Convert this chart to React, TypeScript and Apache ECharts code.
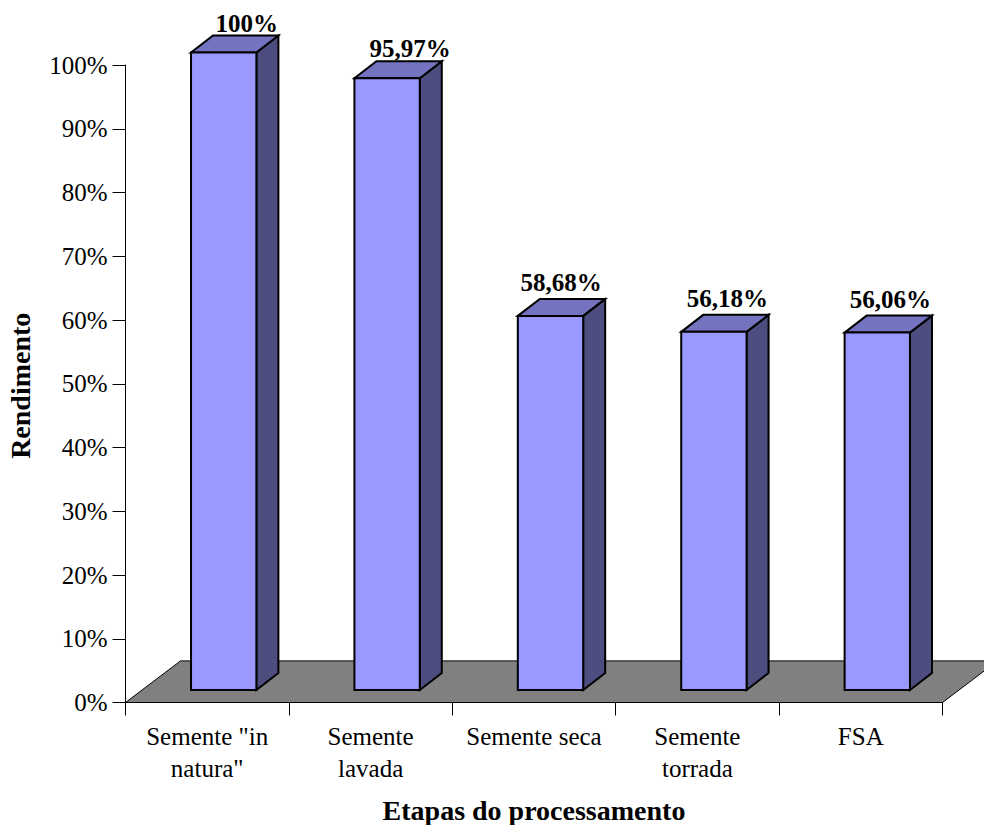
import React, { useEffect, useRef } from "react";
import * as echarts from "echarts";

const categories = ['Semente "in\nnatura"', "Semente\nlavada", "Semente seca", "Semente\ntorrada", "FSA"];
const yields = [100, 95.97, 58.68, 56.18, 56.06];
const yTicks = [0, 10, 20, 30, 40, 50, 60, 70, 80, 90, 100];
const yAxisTitle = "Rendimento";
const xAxisTitle = "Etapas do processamento";

// Hand placement of the value labels relative to each bar's front face / back edge.
const labelShiftX = [23, 23, 10.5, 13.5, 13];
const labelShiftY = [0, 0, -4, -4, -4];

const FONT = '"Liberation Serif", "Times New Roman", serif';
const FLOOR_DX = 55;
const FLOOR_DY = 41.6;
const BAR_DX = 22;
const BAR_DY = 17;

const fmt = (v: number) => String(v).replace(".", ",") + "%";

export default function App() {
  const ref = useRef<HTMLDivElement>(null);
  useEffect(() => {
    document.body.style.margin = "0";
    const chart = echarts.init(ref.current!, undefined, { renderer: "svg" });
    chart.setOption({
      animation: false,
      backgroundColor: "#ffffff",
      grid: { left: 125.5, right: 41.5, top: 65, bottom: 122.5, outerBoundsMode: "none", containLabel: false },
      xAxis: {
        type: "category",
        data: categories,
        name: xAxisTitle,
        nameLocation: "middle",
        nameGap: 97,
        nameTextStyle: { fontFamily: FONT, fontSize: 28, lineHeight: 22, fontWeight: "bold", color: "#000" },
        axisLine: { show: true, lineStyle: { color: "#000", width: 1 } },
        axisTick: { show: true, length: 13, alignWithLabel: false, lineStyle: { color: "#000", width: 1 } },
        axisLabel: { interval: 0, margin: 18, fontFamily: FONT, fontSize: 25, color: "#000", lineHeight: 32 },
      },
      yAxis: {
        type: "value",
        min: 0,
        max: 100,
        interval: 10,
        name: yAxisTitle,
        nameLocation: "middle",
        nameGap: 91,
        nameTextStyle: { fontFamily: FONT, fontSize: 28, fontWeight: "bold", color: "#000", padding: [0, 4, 0, 0] },
        axisLine: { show: true, lineStyle: { color: "#000", width: 1 } },
        axisTick: { show: true, length: 13, lineStyle: { color: "#000", width: 1 } },
        axisLabel: {
          margin: 18,
          fontFamily: FONT,
          fontSize: 25,
          color: "#000",
          formatter: (v: number) => (yTicks.includes(v) ? v + "%" : ""),
        },
        splitLine: { show: false },
      },
      series: [
        {
          type: "custom",
          clip: false,
          silent: true,
          z: 1,
          data: [[0, 0]],
          encode: { x: 0, y: 1 },
          renderItem: (params: any) => {
            const c = params.coordSys;
            const b = c.y + c.height;
            return {
              type: "polygon",
              shape: {
                points: [
                  [c.x, b],
                  [c.x + FLOOR_DX, b - FLOOR_DY],
                  [c.x + c.width + FLOOR_DX, b - FLOOR_DY],
                  [c.x + c.width, b],
                ],
              },
              style: { fill: "#808080", stroke: "#000", lineWidth: 1 },
            };
          },
        },
        {
          type: "custom",
          clip: false,
          silent: true,
          z: 2,
          data: yields.map((v, i) => [i, v]),
          encode: { x: 0, y: 1 },
          renderItem: (p: any, api: any) => {
            const value = api.value(1);
            const pt = api.coord([api.value(0), value]);
            const base = api.coord([api.value(0), 0]);
            const band = api.size([1, 0])[0];
            const w = band * 0.4;
            const cx = pt[0] + (FLOOR_DX - BAR_DX) / 2;
            const sy = 12.5;
            const l = cx - w / 2;
            const r = cx + w / 2;
            const t = pt[1] - sy;
            const bt = base[1] - sy;
            const edge = { stroke: "#000", lineWidth: 2, lineJoin: "miter" };
            return {
              type: "group",
              children: [
                {
                  type: "polygon",
                  shape: { points: [[r, t], [r + BAR_DX, t - BAR_DY], [r + BAR_DX, bt - BAR_DY], [r, bt]] },
                  style: { fill: "#4D4D80", ...edge },
                },
                {
                  type: "polygon",
                  shape: { points: [[l, t], [l + BAR_DX, t - BAR_DY], [r + BAR_DX, t - BAR_DY], [r, t]] },
                  style: { fill: "#7373BF", ...edge },
                },
                {
                  type: "rect",
                  shape: { x: l, y: t, width: w, height: bt - t },
                  style: { fill: "#9999FF", ...edge },
                },
                {
                  type: "text",
                  x: cx + labelShiftX[p.dataIndex],
                  y: t - BAR_DY + labelShiftY[p.dataIndex],
                  style: {
                    text: fmt(value),
                    font: `bold 25px ${FONT}`,
                    fill: "#000",
                    textAlign: "center",
                    textVerticalAlign: "bottom",
                  },
                },
              ],
            };
          },
        },
      ],
    });
    return () => chart.dispose();
  }, []);
  return <div ref={ref} style={{ width: 984, height: 825 }} />;
}
